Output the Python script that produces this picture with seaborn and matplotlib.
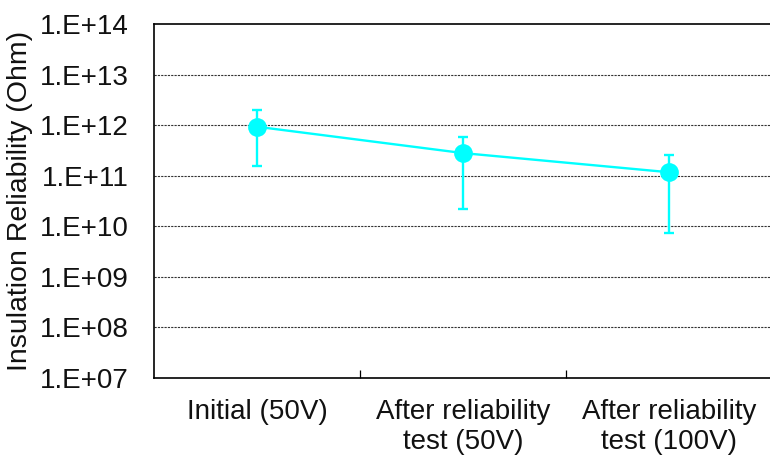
import numpy as np
import pandas as pd
import matplotlib
matplotlib.use("Agg")
import matplotlib.pyplot as plt
import seaborn as sns
from matplotlib.ticker import FixedLocator, FuncFormatter

categories = ["Initial (50V)", "After reliability\ntest (50V)", "After reliability\ntest (100V)"]
mean_values = [9.3e11, 2.8e11, 1.17e11]
upper_values = [1.97e12, 5.9e11, 2.6e11]
lower_values = [1.55e11, 2.15e10, 7.5e9]
y_ticks = [1e7, 1e8, 1e9, 1e10, 1e11, 1e12, 1e13, 1e14]

sns.set_theme(style="white")
plt.rcParams['font.family'] = ['Liberation Sans', 'DejaVu Sans']

df = pd.DataFrame({"cat": categories, "val": mean_values})
pos = np.arange(len(categories))

fig = plt.figure(figsize=(7.7, 4.59), dpi=100)
ax = fig.add_axes([0.2, 0.1765, 0.803, 0.7712])

cyan = "#00FFFF"
yerr = [np.array(mean_values) - np.array(lower_values),
        np.array(upper_values) - np.array(mean_values)]
ax.errorbar(pos, mean_values, yerr=yerr, fmt="none", ecolor=cyan,
            elinewidth=1.7, capsize=3.3, capthick=1.7, zorder=3)
sns.lineplot(data=df, x=pos, y="val", ax=ax, color=cyan, linewidth=1.7,
             marker="o", markersize=13.5, markeredgewidth=0, zorder=4)

ax.set_yscale("log")
ax.set_ylim(1e7, 1e14)
ax.set_xlim(-0.5, len(categories) - 0.5)
ax.yaxis.set_major_locator(FixedLocator(y_ticks))
ax.yaxis.set_minor_locator(FixedLocator([]))
ax.yaxis.set_major_formatter(FuncFormatter(lambda v, p: "1.E+%02d" % int(round(np.log10(v)))))
ax.set_xticks(pos)
ax.set_xticklabels(categories, fontsize=20, color="#111111", linespacing=1.2)
ax.set_xticks(pos[:-1] + 0.5, minor=True)
ax.tick_params(axis="x", which="major", length=0, pad=15)
ax.tick_params(axis="x", which="minor", direction="in", length=6, width=0.9, color="black", bottom=True)
ax.tick_params(axis="y", which="major", length=0, pad=18, labelsize=20, labelcolor="#111111")

for v in y_ticks[1:-1]:
    ax.axhline(v, color="#333333", linestyle=(0, (2, 1)), linewidth=0.8, zorder=1)

ax.set_xlabel("")
ax.set_ylabel("Insulation Reliability (Ohm)", fontsize=20.5, color="#111111", labelpad=5)

for s in ["left", "top", "bottom"]:
    ax.spines[s].set_color("black")
    ax.spines[s].set_linewidth(1.2)
ax.spines["right"].set_visible(False)
ax.grid(False)

fig.savefig("out.png", dpi=100)
